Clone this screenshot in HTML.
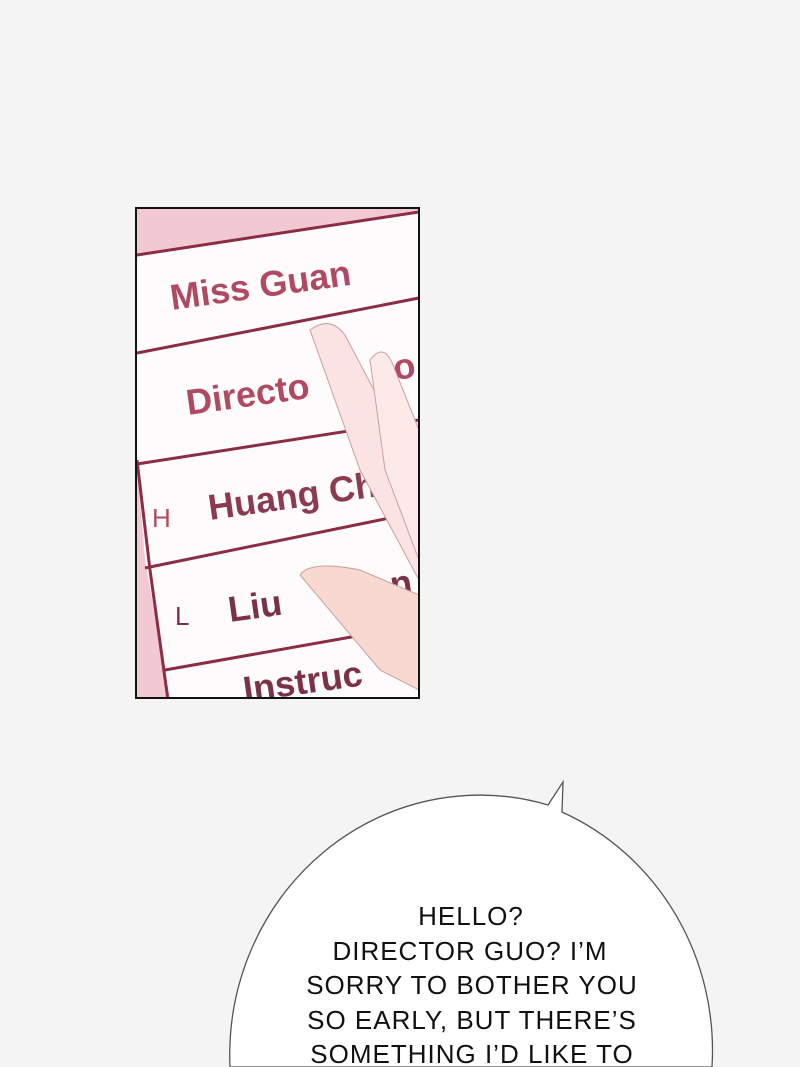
<html><head><style>body{margin:0;background:#f4f4f4}</style></head><body>
<svg width="800" height="1067" viewBox="0 0 800 1067" xmlns="http://www.w3.org/2000/svg">
<rect width="800" height="1067" fill="#f4f4f4"/>
<defs><clipPath id="c"><rect x="137" y="209" width="281" height="488"/></clipPath></defs>
<g clip-path="url(#c)">
<rect x="137" y="209" width="281" height="488" fill="#f2c9d3"/>
<polygon points="137,255 419,212 419,700 170,700 145,560 137,460" fill="#fdfbfb"/>
<g stroke="#8a2d45" stroke-width="3" fill="none">
<line x1="137" y1="255" x2="419" y2="212"/>
<line x1="137" y1="353" x2="419" y2="298"/>
<line x1="137" y1="464" x2="419" y2="420"/>
<line x1="145" y1="568" x2="419" y2="512"/>
<line x1="165" y1="670" x2="419" y2="625"/>
<line x1="137" y1="460" x2="150" y2="570"/>
<line x1="150" y1="570" x2="168" y2="700"/>
</g>
<g font-family="Liberation Sans, sans-serif" font-weight="bold" fill="#b04a62" font-size="36">
<text x="172" y="310" transform="rotate(-8 172 310)">Miss Guan</text>
<text x="188" y="415" transform="rotate(-8 188 415)">Directo</text>
<text x="395" y="380" transform="rotate(-8 395 380)">o</text>
<text x="210" y="520" fill="#8c3a50" transform="rotate(-8 210 520)">Huang Ch</text>
<text x="152" y="527" font-size="26" font-weight="normal">H</text>
<text x="230" y="622" fill="#7a3346" transform="rotate(-8 230 622)">Liu</text>
<text x="175" y="625" font-size="26" font-weight="normal" fill="#7a3346">L</text>
<text x="370" y="600" fill="#7a3346" transform="rotate(-8 370 600)">on</text>
<text x="245" y="702" fill="#7a3346" transform="rotate(-8 245 702)">Instruc</text>
</g>
<path d="M310,330 Q330,315 345,335 L395,430 L419,470 L419,580 L360,470 Z" fill="#fbe3e3" stroke="#c9a0a0" stroke-width="1"/>
<path d="M370,360 Q385,340 395,370 L419,430 L419,560 L385,470 Z" fill="#fde9e8" stroke="#c9a0a0" stroke-width="1"/>
<path d="M300,575 Q310,560 360,570 L419,595 L419,690 L380,670 Z" fill="#f8d9d2" stroke="#c9a0a0" stroke-width="1"/>
</g>
<rect x="136" y="208" width="283" height="490" fill="none" stroke="#111" stroke-width="2"/>
<path d="M548,805 L563,782 L562,812 A250,260 0 0 1 712,1067 L230,1067 A250,260 0 0 1 548,805 Z" fill="#fff" stroke="#555" stroke-width="1.3"/>
<g font-family="Liberation Sans, sans-serif" font-size="26" letter-spacing="1" fill="#111" text-anchor="middle">
<text x="471" y="925">HELLO?</text>
<text x="470" y="960">DIRECTOR GUO? I’M</text>
<text x="472" y="994">SORRY TO BOTHER YOU</text>
<text x="472" y="1029">SO EARLY, BUT THERE’S</text>
<text x="472" y="1063">SOMETHING I’D LIKE TO</text>
</g>
</svg>
</body></html>
